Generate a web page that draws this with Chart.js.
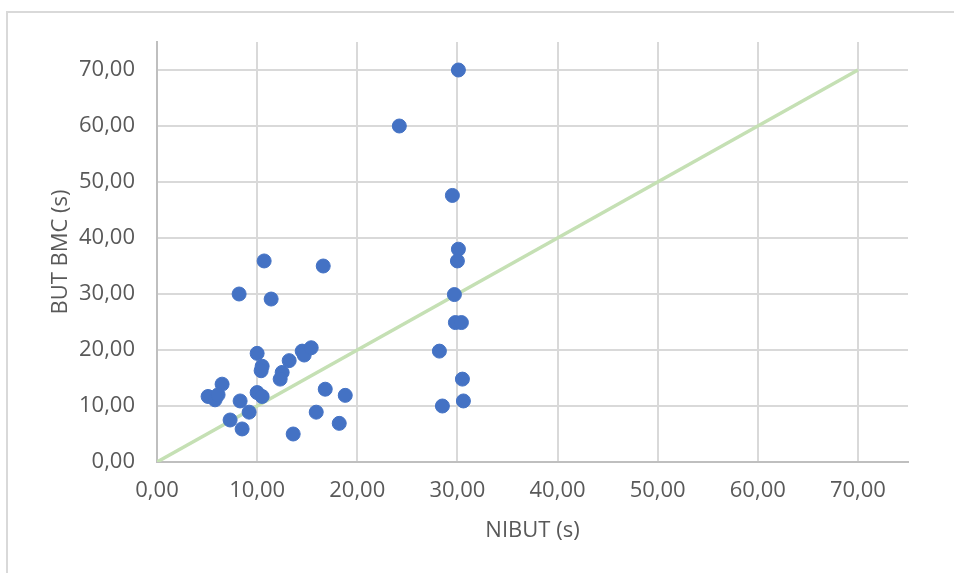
<!DOCTYPE html>
<html>
<head>
<meta charset="utf-8">
<script src="https://cdn.jsdelivr.net/npm/chart.js@4/dist/chart.umd.min.js"></script>
<style>
    html, body { margin: 0; padding: 0; background: #fff; overflow: hidden; }
    #frame { position: absolute; left: 6px; top: 11px; width: 1000px; height: 1000px; border: 2px solid #d9d9d9; }
    #wrap { position: absolute; left: 0; top: 0; width: 954px; height: 573px; }
</style>
</head>
<body>
<div id="frame"></div>
<div id="wrap"><canvas id="scatterChart"></canvas></div>
<script>
// NIBUT (s) vs BUT BMC (s)
const nibut = [
    30.1, 24.2, 29.5, 30.1, 30.0, 29.7, 29.8, 30.4, 28.2, 30.5, 28.5, 30.6,
    10.7, 16.6, 8.2, 11.4, 10.0, 10.5, 10.4, 13.2, 14.5, 14.7, 15.4, 12.5,
    12.3, 6.5, 5.1, 5.8, 6.1, 8.3, 10.0, 10.5, 9.2, 7.3, 8.5, 13.6, 15.9,
    16.8, 18.8, 18.2
];
const butBmc = [
    70.0, 60.0, 47.6, 38.0, 35.9, 29.9, 24.9, 24.9, 19.8, 14.8, 10.0, 10.9,
    35.9, 35.0, 30.0, 29.1, 19.4, 17.1, 16.3, 18.1, 19.8, 19.1, 20.4, 16.0,
    14.8, 13.9, 11.7, 11.1, 12.0, 10.9, 12.4, 11.7, 8.9, 7.5, 5.9, 5.0, 8.9,
    13.0, 11.9, 6.9
];
const refLineX = [0, 70];
const refLineY = [0, 70];
const tickValues = [0, 10, 20, 30, 40, 50, 60, 70];
const tickLabels = ['0,00', '10,00', '20,00', '30,00', '40,00', '50,00', '60,00', '70,00'];

const textColor = '#595959';
const font = { family: 'Open Sans', size: 22 };

function fixedTicks(scale) {
    scale.ticks = tickValues.map(v => ({ value: v }));
}
function tickLabel(value) {
    const i = tickValues.indexOf(value);
    return i >= 0 ? tickLabels[i] : '';
}

const ctx = document.getElementById('scatterChart').getContext('2d');
new Chart(ctx, {
    type: 'scatter',
    data: {
        datasets: [{
            label: 'BUT BMC',
            data: nibut.map((x, i) => ({ x: x, y: butBmc[i] })),
            backgroundColor: '#4472c4',
            borderColor: '#4472c4',
            borderWidth: 1,
            pointRadius: 7,
            order: 1
        }, {
            type: 'line',
            label: 'y = x',
            data: refLineX.map((x, i) => ({ x: x, y: refLineY[i] })),
            borderColor: '#c5e0b4',
            borderWidth: 3.5,
            pointRadius: 0,
            fill: false,
            order: 2
        }]
    },
    options: {
        responsive: true,
        maintainAspectRatio: false,
        animation: false,
        layout: { padding: { top: 42, right: 46, bottom: 0, left: 0 } },
        plugins: {
            legend: { display: false },
            tooltip: { enabled: false }
        },
        scales: {
            x: {
                type: 'linear',
                min: 0,
                max: 75,
                afterBuildTicks: fixedTicks,
                afterFit: s => { s.height = 111; },
                grid: { color: '#d9d9d9', lineWidth: 2, drawTicks: false },
                border: { color: '#bfbfbf', width: 2 },
                ticks: { color: textColor, font: font, padding: 16, maxRotation: 0, callback: tickLabel },
                title: { display: true, text: 'NIBUT (s)', color: textColor, font: font, padding: { top: 0, bottom: 29 } }
            },
            y: {
                type: 'linear',
                min: 0,
                max: 75,
                afterBuildTicks: fixedTicks,
                afterFit: s => { s.width = 157; },
                grid: { color: '#d9d9d9', lineWidth: 2, drawTicks: false },
                border: { color: '#bfbfbf', width: 2 },
                ticks: { color: textColor, font: font, padding: 22, callback: tickLabel },
                title: { display: true, text: 'BUT BMC (s)', color: textColor, font: font, padding: { top: 48, bottom: 0 } }
            }
        }
    }
});
</script>
</body>
</html>
